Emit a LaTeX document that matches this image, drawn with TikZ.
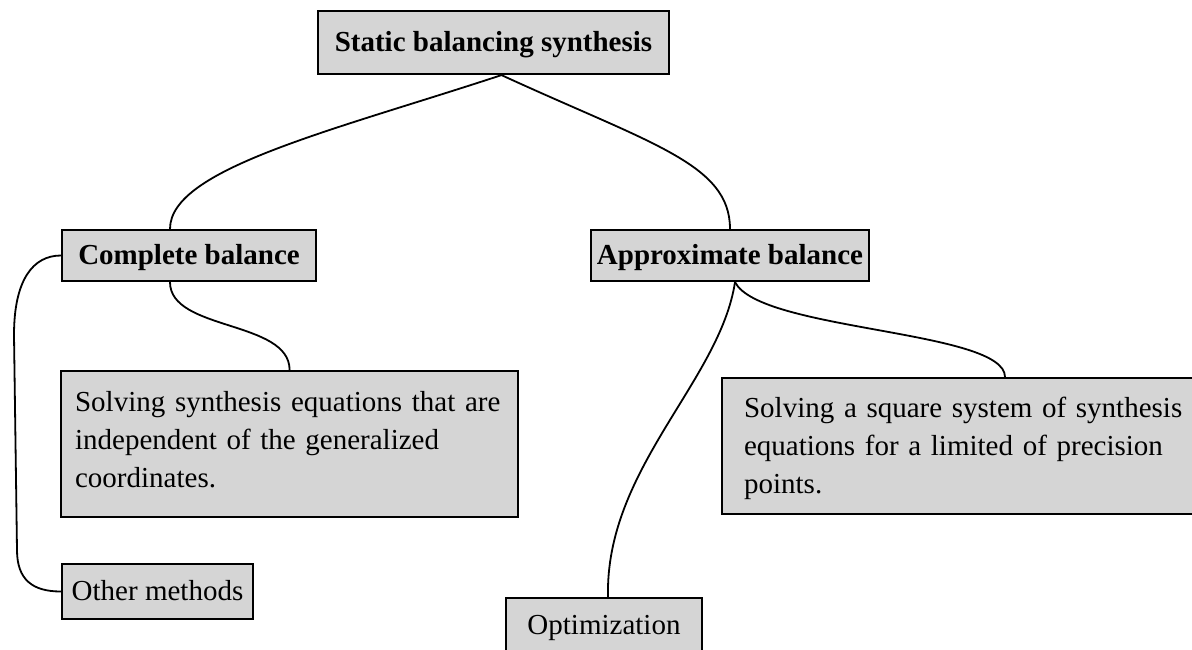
\documentclass[tikz,border=0pt]{standalone}
\usepackage{fontspec}
\setmainfont{Liberation Serif}
\definecolor{boxfill}{RGB}{213,213,213}
\begin{document}
\begin{tikzpicture}[x=1pt,y=-1pt,
  box/.style={draw=black, line width=2.2pt, fill=boxfill, rectangle, inner sep=0pt,
              font=\fontsize{29}{38}\selectfont},
  head/.style={box, font=\fontsize{29}{38}\selectfont\bfseries, text height=22pt, text depth=4pt},
  leaf/.style={box, text height=22pt, text depth=4pt},
  textbox/.style={box, align=left, anchor=north west},
  link/.style={line width=1.8pt, line cap=round}]

\useasboundingbox (0,0) rectangle (1192,649);
\clip (0,0) rectangle (1192,649);

% boxes
\node[head, minimum width=351pt, minimum height=63pt] (T) at (493.5,42.5) {Static balancing synthesis};
\node[head, minimum width=254pt, minimum height=51pt] (C) at (189,255.5) {Complete balance};
\node[head, minimum width=278pt, minimum height=51pt] (A) at (730,255.5) {Approximate balance};
\node[textbox, text width=429pt, inner xsep=14pt, text height=40pt, text depth=106pt] (L) at (60,370)
  {Solving synthesis equations that are\\ independent of the generalized\\ coordinates.};
\node[textbox, text width=445pt, inner xsep=22pt, text height=39pt, text depth=97pt] (R) at (721,377)
  {Solving a square system of synthesis\\ equations for a limited of precision\\ points.};
\node[leaf, minimum width=191pt, minimum height=55pt] (O) at (157.5,591.5) {Other methods};
\node[leaf, minimum width=196pt, minimum height=55pt] (P) at (604,625.5) {Optimization};

% bend points of the bracket on the left
\coordinate (ob1) at (14,335);
\coordinate (ob2) at (17,550);

% connectors
\draw[link] ([xshift=8pt]T.south) .. controls +(-170,56) and +(0,-60) .. ([xshift=-19pt]C.north);
\draw[link] ([xshift=8pt]T.south) .. controls +(150,69) and +(0,-65) .. (A.north);
\draw[link] ([xshift=-19pt]C.south) .. controls +(0,49) and +(0,-50) .. (L.north);
\draw[link] (C.west) .. controls +(-28,0) and +(0,-55) .. (ob1) -- (ob2)
            .. controls +(0,30) and +(-28,0) .. (O.west);
\draw[link] ([xshift=5pt]A.south) .. controls +(-15,99) and +(-3,-128) .. ([xshift=4pt]P.north);
\draw[link] ([xshift=5pt]A.south) .. controls +(25,49) and +(0,-47) .. ([xshift=284pt]R.north west);

\end{tikzpicture}
\end{document}
